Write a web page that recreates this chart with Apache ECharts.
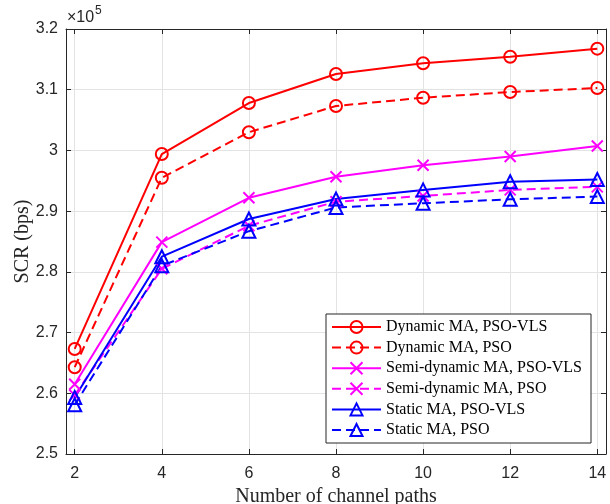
<!DOCTYPE html>
<html>
<head>
<meta charset="utf-8">
<script src="https://cdn.jsdelivr.net/npm/echarts@6/dist/echarts.min.js"></script>
<style>
  html, body { margin: 0; padding: 0; background: #fff; }
  #chart { width: 610px; height: 504px; }
</style>
</head>
<body>
<div id="chart"></div>
<script>
// Number of channel paths (x axis)
const channelPaths = [2, 4, 6, 8, 10, 12, 14];
const xTickValues = [2, 4, 6, 8, 10, 12, 14];

// Secrecy capacity rate in bps
const dynamicVls = [267300, 299400, 307800, 312600, 314350, 315440, 316760];
const dynamicPso = [264300, 295500, 303000, 307320, 308680, 309620, 310280];
const semiVls    = [261500, 284900, 292200, 295670, 297550, 299000, 300730];
const semiPso    = [259700, 280500, 287600, 291550, 292500, 293500, 294000];
const staticVls  = [259300, 282500, 288700, 292000, 293500, 294850, 295200];
const staticPso  = [258100, 281000, 286700, 290600, 291300, 291950, 292400];

const seriesNames = [
  'Dynamic MA, PSO-VLS',
  'Dynamic MA, PSO',
  'Semi-dynamic MA, PSO-VLS',
  'Semi-dynamic MA, PSO',
  'Static MA, PSO-VLS',
  'Static MA, PSO'
];

const crossPath = 'path://M0,0L10,10M0,10L10,0';
const axisColor = '#262626';
const gridColor = '#e3e3e3';

function makeSeries(name, values, color, dashed, symbol, size) {
  return {
    name: name,
    type: 'line',
    data: channelPaths.map((x, i) => [x, values[i]]),
    symbol: symbol,
    symbolSize: size,
    showAllSymbol: true,
    lineStyle: { color: color, width: 2, type: dashed ? [9, 5] : 'solid' },
    itemStyle: { color: 'rgba(0,0,0,0)', borderColor: color, borderWidth: 2 },
    emphasis: { disabled: true },
    clip: false
  };
}

const series = [
  makeSeries(seriesNames[0], dynamicVls, '#ff0000', false, 'circle', 12),
  makeSeries(seriesNames[1], dynamicPso, '#ff0000', true, 'circle', 12),
  makeSeries(seriesNames[2], semiVls, '#ff00ff', false, crossPath, 11),
  makeSeries(seriesNames[3], semiPso, '#ff00ff', true, crossPath, 11),
  makeSeries(seriesNames[4], staticVls, '#0000ff', false, 'triangle', 13),
  makeSeries(seriesNames[5], staticPso, '#0000ff', true, 'triangle', 13)
];

const chart = echarts.init(document.getElementById('chart'), null, { renderer: 'canvas' });

chart.setOption({
  animation: false,
  backgroundColor: '#fff',
  grid: { left: 66, right: 4, top: 29, bottom: 50, containLabel: false, outerBoundsMode: 'none' },
  xAxis: [
    {
      type: 'value', min: 1.8, max: 14.2, position: 'bottom',
      axisLine: { show: true, onZero: false, lineStyle: { color: axisColor, width: 1 } },
      axisTick: { show: true, inside: true, length: 5, customValues: xTickValues, lineStyle: { color: axisColor } },
      axisLabel: { customValues: xTickValues, color: axisColor, fontSize: 16, fontFamily: 'Liberation Sans', margin: 12 },
      splitLine: { show: true, lineStyle: { color: gridColor, width: 1 } },
      name: 'Number of channel paths', nameLocation: 'middle', nameGap: 29,
      nameTextStyle: { fontFamily: 'Liberation Serif', fontSize: 20, color: axisColor }
    },
    {
      type: 'value', min: 1.8, max: 14.2, position: 'top',
      axisLine: { show: true, onZero: false, lineStyle: { color: axisColor, width: 1 } },
      axisTick: { show: true, inside: true, length: 5, customValues: xTickValues, lineStyle: { color: axisColor } },
      axisLabel: { show: false },
      splitLine: { show: false }
    }
  ],
  yAxis: [
    {
      type: 'value', min: 250000, max: 320000, interval: 10000, position: 'left',
      axisLine: { show: true, onZero: false, lineStyle: { color: axisColor, width: 1 } },
      axisTick: { show: true, inside: true, length: 5, lineStyle: { color: axisColor } },
      axisLabel: {
        color: axisColor, fontSize: 16, fontFamily: 'Liberation Sans', margin: 8,
        formatter: v => String(Math.round(v / 1e4) / 10)
      },
      splitLine: { show: true, lineStyle: { color: gridColor, width: 1 } },
      name: 'SCR (bps)', nameLocation: 'middle', nameGap: 33, nameMoveOverlap: false,
      nameTextStyle: { fontFamily: 'Liberation Serif', fontSize: 20, color: axisColor }
    },
    {
      type: 'value', min: 250000, max: 320000, interval: 10000, position: 'right',
      axisLine: { show: true, onZero: false, lineStyle: { color: axisColor, width: 1 } },
      axisTick: { show: true, inside: true, length: 5, lineStyle: { color: axisColor } },
      axisLabel: { show: false },
      splitLine: { show: false }
    }
  ],
  legend: {
    orient: 'vertical', left: 326, top: 314,
    itemWidth: 49, itemHeight: 15, itemGap: 4.6,
    padding: [5, 9, 5, 5],
    backgroundColor: '#fff', borderColor: axisColor, borderWidth: 1,
    textStyle: { fontFamily: 'Liberation Serif', fontSize: 16, color: '#000' },
    selectedMode: false,
    data: seriesNames
  },
  graphic: [
    { type: 'text', left: 67, top: 10, style: { text: '×10', fontFamily: 'Liberation Sans', fontSize: 16, fill: axisColor } },
    { type: 'text', left: 95, top: 5, style: { text: '5', fontFamily: 'Liberation Sans', fontSize: 12, fill: axisColor } }
  ],
  series: series
});
</script>
</body>
</html>
